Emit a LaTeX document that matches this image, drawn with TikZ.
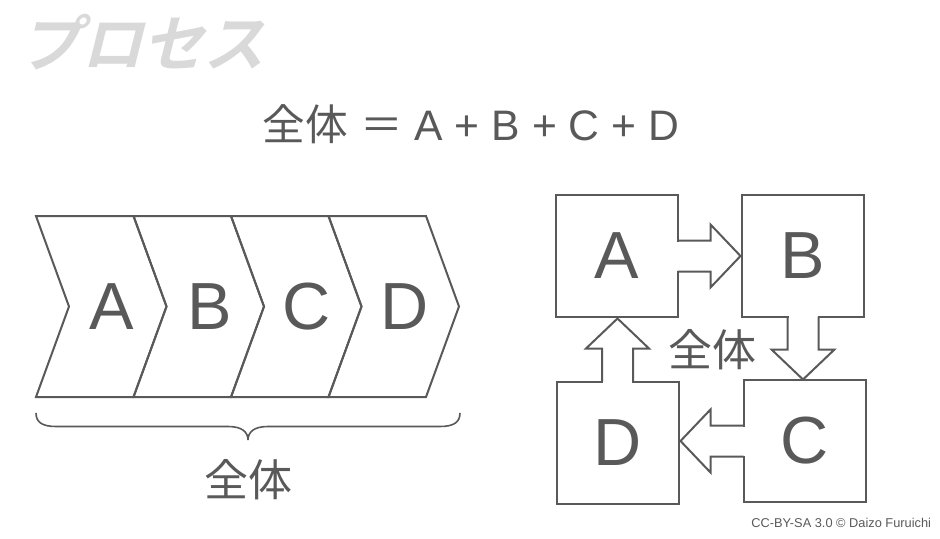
\documentclass[tikz,border=0pt]{standalone}
\usepackage{fontspec}
\setmainfont{Liberation Sans}
\newfontfamily\jpfont{Noto Sans CJK JP}
\newfontfamily\titlefont[FakeSlant=0.25]{Noto Sans CJK JP Bold}
\definecolor{linegray}{HTML}{595959}
\definecolor{titlegray}{HTML}{D9D9D9}
\begin{document}
\begin{tikzpicture}[x=0.75pt, y=-0.75pt, line width=1.5pt, color=linegray, line join=miter,
		letter/.style={font=\fontsize{50}{50}\selectfont, inner sep=0pt},
		box/.style={draw, outer sep=0pt, inner sep=0pt, minimum width=91.5pt, minimum height=91.5pt, letter},
		whole/.style={font=\jpfont\fontsize{33}{33}\selectfont, inner sep=0pt},
		blockarrow/.pic={
			\fill[white] (-3,-14.5) rectangle (1.5,14.5);
			\draw (0,-15.5) -- (33,-15.5) -- (33,-31.5) -- (63,0) -- (33,31.5) -- (33,15.5) -- (0,15.5);
		}]
	\useasboundingbox (0,0) rectangle (940,539);

	\node[text=titlegray, font=\titlefont\fontsize{46}{46}\selectfont] (title) at (142.5,42.5) {プロセス};
	\node[font=\fontsize{32}{32}\selectfont] (formula) at (471,124) {{\jpfont 全体} {\jpfont ＝} A + B + C + D};

	\foreach \n [count=\i from 0] in {A,B,C,D} {
		\draw (36+97.5*\i,216) -- ++(97.5,0) -- ++(33,90.5) -- ++(-33,90.5) -- ++(-97.5,0) -- ++(33,-90.5) -- cycle;
		\node[letter] (stage\n) at (112+97.5*\i,306.5) {\n};
	}
	\draw[line width=1.2pt] (36,413) .. controls (36,422) and (42,426.5) .. (56,426.5) -- (228,426.5)
		.. controls (242,426.5) and (248,432) .. (248,440) coordinate (bracetip)
		.. controls (248,432) and (254,426.5) .. (268,426.5) -- (440,426.5)
		.. controls (454,426.5) and (460,422) .. (460,413);
	\node[whole] (wholeleft) at (248,480) {全体};

	\node[box] (a) at (616.5,256) {A};
	\node[box] (b) at (803,255.5) {B};
	\node[box] (c) at (804.5,441) {C};
	\node[box] (d) at (617.5,442.5) {D};
	\pic at (a.east) {blockarrow};
	\pic[rotate=-90] at (b.south) {blockarrow};
	\pic[rotate=180] at (c.west) {blockarrow};
	\pic[rotate=90] at (d.north) {blockarrow};
	\node[whole] (wholeright) at (712.5,350) {全体};

	\node[anchor=east, inner sep=0pt, font=\fontsize{9.6}{9.6}\selectfont] (credit) at (932,523) {CC-BY-SA 3.0 © Daizo Furuichi};
\end{tikzpicture}
\end{document}
